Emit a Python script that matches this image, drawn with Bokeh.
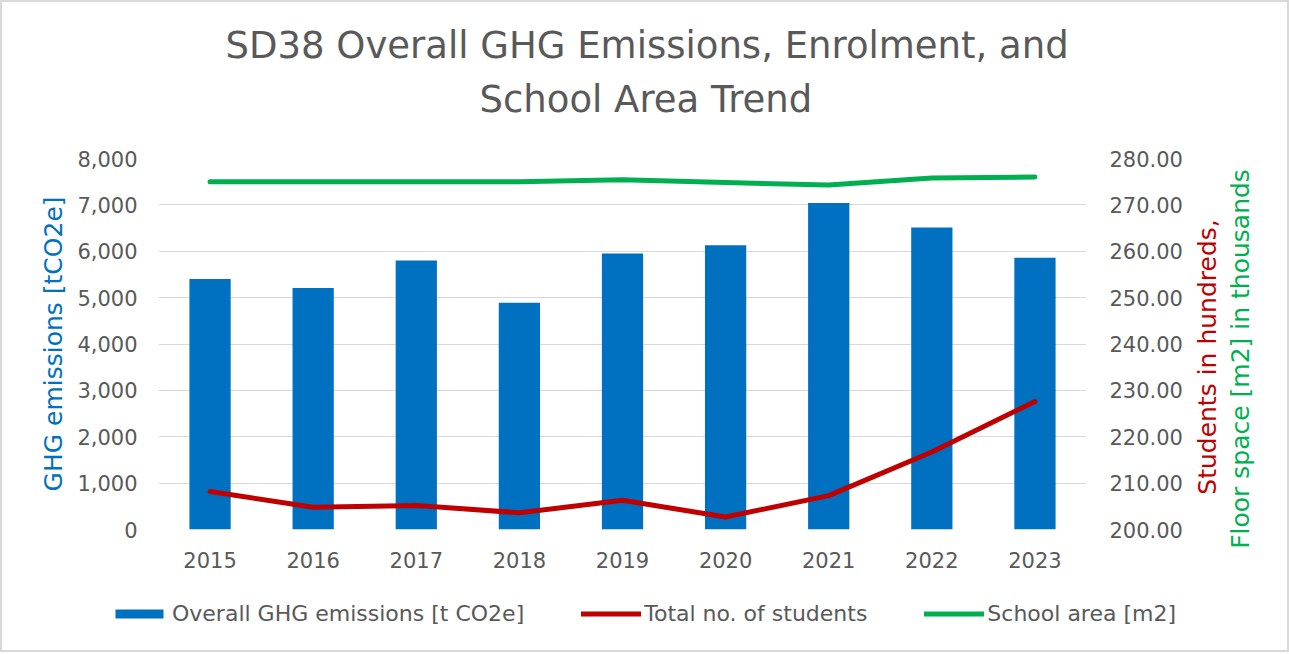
import math
from bokeh.plotting import figure
from bokeh.models import (ColumnDataSource, Range1d, LinearAxis, Legend, LegendItem,
                          Title, Label, NumeralTickFormatter, FixedTicker, FactorRange)
from bokeh.embed import file_html
from bokeh.resources import INLINE

# ---- data ----
years = ["2015", "2016", "2017", "2018", "2019", "2020", "2021", "2022", "2023"]
ghg_emissions = [5400, 5210, 5800, 4890, 5950, 6130, 7040, 6510, 5860]
students_hundreds = [208.2, 204.8, 205.2, 203.6, 206.3, 202.7, 207.3, 216.7, 227.6]
area_thousands = [275.0, 275.0, 275.0, 275.0, 275.4, 274.8, 274.3, 275.8, 276.0]
left_ticks = [0, 1000, 2000, 3000, 4000, 5000, 6000, 7000, 8000]
right_ticks = [200, 210, 220, 230, 240, 250, 260, 270, 280]

title_lines = ["SD38 Overall GHG Emissions, Enrolment, and", "School Area Trend"]
series_names = ["Overall GHG emissions [t CO2e]", "Total no. of students", "School area [m2]"]
right_titles = ["Students in hundreds,", "Floor space [m2] in thousands"]

BLUE = "#0070C0"
RED = "#C00000"
GREEN = "#00B050"
GRAY = "#595959"
GRID = "#D9D9D9"
FONT = "DejaVu Sans"

src = ColumnDataSource(dict(year=years, ghg=ghg_emissions,
                            students=students_hundreds, area=area_thousands))

def bare(fig):
    fig.outline_line_color = None
    fig.background_fill_color = None
    fig.border_fill_color = None

# ---------------- main chart ----------------
p = figure(width=1289, height=590, x_range=FactorRange(*years),
           y_range=Range1d(0, 8000), output_backend="svg", toolbar_location=None,
           min_border_left=158, min_border_right=203, min_border_top=158,
           min_border_bottom=61)
p.extra_y_ranges = {"right": Range1d(200, 280)}
bare(p)
p.styles = {"box-shadow": "inset 2px 2px 0 #D9D9D9, inset -2px 0 0 #D9D9D9"}

bars = p.vbar(x="year", top="ghg", width=0.4, source=src, fill_color=BLUE, line_color=None)
red = p.line(x="year", y="students", source=src, y_range_name="right",
             line_color=RED, line_width=5, line_cap="round", line_join="round")
green = p.line(x="year", y="area", source=src, y_range_name="right",
               line_color=GREEN, line_width=5, line_cap="round", line_join="round")

p.xgrid.grid_line_color = None
p.ygrid.grid_line_color = GRID
p.ygrid.grid_line_width = 1

def style_axis(ax):
    ax.axis_line_color = None
    ax.major_tick_line_color = None
    ax.minor_tick_line_color = None
    ax.major_tick_in = 0
    ax.major_tick_out = 0
    ax.minor_tick_in = 0
    ax.minor_tick_out = 0
    ax.major_label_text_font = FONT
    ax.major_label_text_font_size = "21px"
    ax.major_label_text_color = GRAY
    ax.axis_label_text_font = FONT
    ax.axis_label_text_font_size = "25px"
    ax.axis_label_text_font_style = "normal"

ya = p.yaxis[0]
style_axis(ya)
ya.ticker = FixedTicker(ticks=left_ticks)
ya.formatter = NumeralTickFormatter(format="0,0")
ya.major_label_standoff = 21
ya.axis_label = "GHG emissions [tCO2e]"
ya.axis_label_text_color = BLUE
ya.axis_label_standoff = 6

xa = p.xaxis[0]
style_axis(xa)
xa.major_label_standoff = 22

ra = LinearAxis(y_range_name="right", ticker=FixedTicker(ticks=right_ticks),
                formatter=NumeralTickFormatter(format="0.00"))
style_axis(ra)
ra.major_label_standoff = 23
p.add_layout(ra, "right")

# title: spacer + two separately placed lines
p.add_layout(Title(text=" ", text_font_size="1px", standoff=34), "above")
p.add_layout(Title(text=title_lines[1], align="left", offset=321, vertical_align="middle",
                   standoff=0, text_font=FONT, text_font_size="37px",
                   text_font_style="normal", text_color=GRAY), "above")
p.add_layout(Title(text=title_lines[0], align="left", offset=67, vertical_align="middle",
                   standoff=18, text_font=FONT, text_font_size="37px",
                   text_font_style="normal", text_color=GRAY), "above")

# ---------------- right-hand two-colour axis title (overlay strip) ----------------
rp = figure(width=90, height=440, x_range=Range1d(0, 1), y_range=Range1d(0, 1),
            output_backend="svg", toolbar_location=None, min_border=0,
            x_axis_type=None, y_axis_type=None)
bare(rp)
rp.xgrid.grid_line_color = None
rp.ygrid.grid_line_color = None
rp.styles = {"position": "absolute", "left": "1180px", "top": "140px"}
rp.add_layout(Label(x=26.5, y=223.5, x_units="screen", y_units="screen",
                    text=right_titles[0], angle=math.pi / 2, text_align="center",
                    text_baseline="middle", text_font=FONT, text_font_size="25px",
                    text_color=RED))
rp.add_layout(Label(x=59.5, y=221.5, x_units="screen", y_units="screen",
                    text=right_titles[1], angle=math.pi / 2, text_align="center",
                    text_baseline="middle", text_font=FONT, text_font_size="25px",
                    text_color=GREEN))

# ---------------- legend strip ----------------
lp = figure(width=1289, height=62, x_range=FactorRange(*years), y_range=Range1d(0, 8000),
            output_backend="svg", toolbar_location=None, min_border=0,
            x_axis_type=None, y_axis_type=None)
bare(lp)
lp.xgrid.grid_line_color = None
lp.ygrid.grid_line_color = None
lp.styles = {"box-shadow": "inset 2px -2px 0 #D9D9D9, inset -2px 0 0 #D9D9D9"}
# same series (hidden) so that only their legend swatches show
lbar = lp.vbar(x="year", top="ghg", width=0.4, source=src, fill_color=BLUE,
               line_color=None, visible=False)
lred = lp.line(x="year", y="students", source=src, line_color=RED, line_width=5,
               line_cap="round", visible=False)
lgreen = lp.line(x="year", y="area", source=src, line_color=GREEN, line_width=5,
                 line_cap="round", visible=False)

legend = Legend(items=[LegendItem(label=series_names[0], renderers=[lbar]),
                       LegendItem(label=series_names[1], renderers=[lred]),
                       LegendItem(label=series_names[2], renderers=[lgreen])],
                location=(109, 26), orientation="horizontal", padding=0, margin=0,
                spacing=57, border_line_color=None, background_fill_alpha=0,
                inactive_fill_alpha=0,
                glyph_width=60, glyph_height=11, label_height=22, label_standoff=3,
                label_text_font=FONT, label_text_font_size="22px", label_text_color=GRAY)
lp.add_layout(legend, "center")

open("out.html", "w").write(file_html([p, rp, lp], INLINE))
